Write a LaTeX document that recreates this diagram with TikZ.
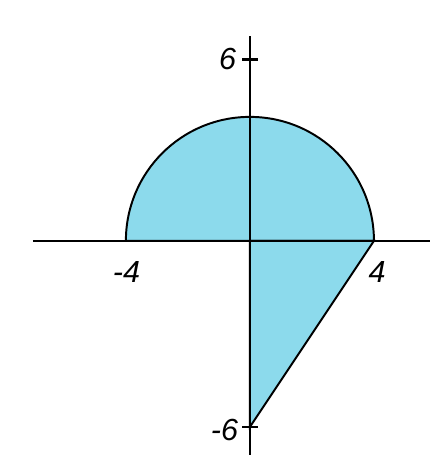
\documentclass[tikz,border=0pt]{standalone}
\usepackage{fontspec}
\setmainfont{Liberation Sans}
\definecolor{shade}{RGB}{140,218,236}
\tikzset{
  axis/.style={line width=2pt, black},
  region/.style={line width=1.8pt, black, fill=shade},
  lab/.style={font=\fontsize{28}{32}\selectfont\itshape, inner sep=0pt}
}
\begin{document}
\begin{tikzpicture}
    \useasboundingbox (-8.06,-7.42) rectangle (5.81,7.77);
        % points
            \coordinate (O) at (0,0);
            \coordinate (L) at (-4,0);
            \coordinate (R) at (4,0);
            \coordinate (B) at (0,-6);
        % shaded region
            \filldraw[region] (L) arc (180:0:4) -- (R) -- cycle;
            \filldraw[region] (O) -- (R) -- (B) -- cycle;
        % axes
            \draw [axis] (-7,0) coordinate (xl) -- (5.81,0) coordinate (xr);
            \draw [axis] (0,-6.9) coordinate (yb) -- (0,6.6) coordinate (yt);
            \draw [axis] (-0.25,5.85) -- (0.25,5.85);
            \draw [axis] (-0.25,-6) -- (0.25,-6);
        % labels
            \node[lab] (six) at (-0.72,5.88) {6};
            \node[lab] (mfour) at (-3.98,-1.0) {-4};
            \node[lab] (four) at (4.1,-1.0) {4};
            \node[lab] (msix) at (-0.82,-6.1) {-6};
\end{tikzpicture}
\end{document}
